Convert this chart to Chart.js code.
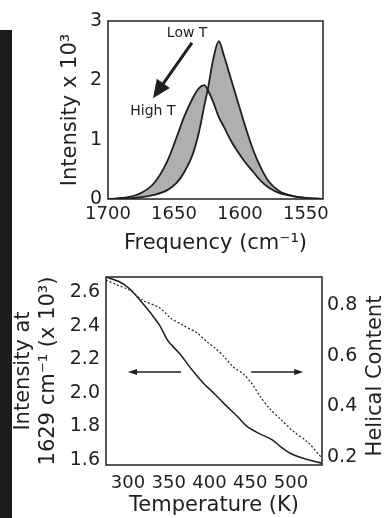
<!DOCTYPE html>
<html>
<head>
<meta charset="utf-8">
<script src="https://cdn.jsdelivr.net/npm/chart.js@4.4.1/dist/chart.umd.min.js"></script>
<style>
  body { margin: 0; background: #fff; width: 388px; height: 518px; position: relative; overflow: hidden; }
  #edge { position: absolute; left: 0; top: 30px; width: 12px; height: 488px; background: #1c1c1c; }
  canvas { position: absolute; left: 0; }
  #spectra { top: 0; }
  #melt { top: 258px; }
</style>
</head>
<body>
<div id="edge"></div>
<canvas id="spectra" width="388" height="258"></canvas>
<canvas id="melt" width="388" height="260"></canvas>
<script>
// top panel: amide I band at the lowest and the highest temperature (x 10^3)
const freq  = [1700, 1685, 1675, 1665, 1655, 1648, 1642, 1636, 1631, 1627, 1624, 1620, 1616, 1612, 1607, 1602, 1596, 1590, 1584, 1578, 1570, 1560, 1550, 1537];
const lowT  = [0.0, 0.01, 0.03, 0.07, 0.15, 0.27, 0.46, 0.74, 1.13, 1.57, 1.89, 2.38, 2.66, 2.41, 2.04, 1.67, 1.23, 0.83, 0.52, 0.29, 0.13, 0.05, 0.02, 0.0];
const highT = [0.0, 0.03, 0.10, 0.27, 0.64, 1.04, 1.40, 1.69, 1.87, 1.92, 1.82, 1.62, 1.38, 1.21, 0.99, 0.81, 0.62, 0.46, 0.30, 0.19, 0.10, 0.05, 0.02, 0.0];
const freqTicks = [1700, 1650, 1600, 1550];
const intensityTicks = [0, 1, 2, 3];

// bottom panel: intensity at 1629 cm-1 (left axis) and helical content (right axis)
const tempSolid = [273, 290, 302, 315, 327, 339, 349, 364, 378, 392, 407, 417, 434, 446, 460, 477, 487, 499, 515, 538];
const intensity1629 = [2.69, 2.66, 2.62, 2.55, 2.48, 2.40, 2.31, 2.23, 2.14, 2.06, 1.99, 1.94, 1.86, 1.80, 1.76, 1.72, 1.68, 1.64, 1.61, 1.58];
const tempDotted = [273, 287, 302, 318, 339, 352, 368, 385, 397, 407, 417, 429, 441, 452, 462, 474, 487, 503, 520, 538];
const helical = [0.90, 0.88, 0.86, 0.82, 0.79, 0.75, 0.72, 0.69, 0.655, 0.63, 0.60, 0.556, 0.53, 0.49, 0.44, 0.39, 0.35, 0.30, 0.26, 0.195];
const tempTicks = [300, 350, 400, 450, 500];
const leftTicks = [1.6, 1.8, 2.0, 2.2, 2.4, 2.6];
const rightTicks = [0.2, 0.4, 0.6, 0.8];

const ink = '#1f1f1f';
Chart.defaults.font.family = '"DejaVu Sans", Verdana, sans-serif';
Chart.defaults.color = ink;

const frame = {
    id: 'frame',
    afterDraw(chart) {
        const { ctx, chartArea: a } = chart;
        ctx.save();
        ctx.strokeStyle = ink;
        ctx.lineWidth = 1.5;
        ctx.strokeRect(a.left, a.top, a.right - a.left, a.bottom - a.top);
        ctx.restore();
    }
};

function arrow(ctx, x0, y0, x1, y1, width, head, headW) {
    const ang = Math.atan2(y1 - y0, x1 - x0);
    const c = Math.cos(ang), s = Math.sin(ang);
    ctx.lineWidth = width;
    ctx.beginPath();
    ctx.moveTo(x0, y0);
    ctx.lineTo(x1 - c * head * 0.7, y1 - s * head * 0.7);
    ctx.stroke();
    ctx.beginPath();
    ctx.moveTo(x1, y1);
    ctx.lineTo(x1 - c * head - s * headW / 2, y1 - s * head + c * headW / 2);
    ctx.lineTo(x1 - c * head + s * headW / 2, y1 - s * head - c * headW / 2);
    ctx.closePath();
    ctx.fill();
}

const spectraNotes = {
    id: 'spectraNotes',
    afterDatasetsDraw(chart) {
        const { ctx, scales: { x, y } } = chart;
        ctx.save();
        ctx.fillStyle = ink;
        ctx.strokeStyle = ink;
        arrow(ctx, x.getPixelForValue(1636.4), y.getPixelForValue(2.63),
            x.getPixelForValue(1665.9), y.getPixelForValue(1.70), 3, 18, 16);
        ctx.font = '14px "DejaVu Sans"';
        ctx.textAlign = 'center';
        ctx.textBaseline = 'middle';
        ctx.fillText('Low T', x.getPixelForValue(1640), y.getPixelForValue(2.8));
        ctx.fillText('High T', x.getPixelForValue(1666), y.getPixelForValue(1.47));
        ctx.restore();
    }
};

const meltNotes = {
    id: 'meltNotes',
    afterDatasetsDraw(chart) {
        const { ctx, chartArea: a, scales: { x, y } } = chart;
        const yy = y.getPixelForValue(2.124);
        ctx.save();
        ctx.fillStyle = ink;
        ctx.strokeStyle = ink;
        arrow(ctx, x.getPixelForValue(365), yy, x.getPixelForValue(300), yy, 1.5, 9, 6);
        arrow(ctx, x.getPixelForValue(451), yy, x.getPixelForValue(515), yy, 1.5, 9, 6);
        // right-hand axis title reads upwards, like the left one
        ctx.translate(376, (a.top + a.bottom) / 2 + 5);
        ctx.rotate(-Math.PI / 2);
        ctx.font = '21px "DejaVu Sans"';
        ctx.textAlign = 'center';
        ctx.textBaseline = 'middle';
        ctx.fillText('Helical Content', 0, 0);
        ctx.restore();
    }
};

const fixTicks = list => s => { s.ticks = list.map(v => ({ value: v })); };

new Chart(document.getElementById('spectra'), {
    type: 'line',
    data: {
        datasets: [
            {
                data: freq.map((f, i) => ({ x: f, y: highT[i] })),
                borderColor: ink,
                borderWidth: 1.8,
                pointRadius: 0,
                cubicInterpolationMode: 'monotone',
                fill: false
            },
            {
                data: freq.map((f, i) => ({ x: f, y: lowT[i] })),
                borderColor: ink,
                borderWidth: 1.8,
                pointRadius: 0,
                cubicInterpolationMode: 'monotone',
                fill: '-1',
                backgroundColor: 'rgba(110,110,110,0.55)'
            }
        ]
    },
    options: {
        responsive: false,
        animation: false,
        layout: { padding: { left: 0, right: 65, top: 21, bottom: 0 } },
        plugins: { legend: { display: false }, tooltip: { enabled: false } },
        scales: {
            x: {
                type: 'linear',
                reverse: true,
                min: 1537,
                max: 1700,
                afterBuildTicks: fixTicks(freqTicks),
                afterFit: s => { s.height = 59; },
                grid: { display: false, drawTicks: false },
                border: { display: false },
                ticks: { padding: 5, font: { size: 18 }, callback: v => String(v) },
                title: { display: true, text: 'Frequency (cm⁻¹)', font: { size: 21 }, padding: { top: 0, bottom: 2 } }
            },
            y: {
                min: 0,
                max: 3,
                afterBuildTicks: fixTicks(intensityTicks),
                afterFit: s => { s.width = 108; },
                grid: { display: false, drawTicks: false },
                border: { display: false },
                ticks: { padding: 6, font: { size: 19 } },
                title: { display: true, text: 'Intensity x 10³', font: { size: 21 }, padding: { top: 58, bottom: 0 } }
            }
        }
    },
    plugins: [frame, spectraNotes]
});

new Chart(document.getElementById('melt'), {
    type: 'line',
    data: {
        datasets: [
            {
                data: tempSolid.map((t, i) => ({ x: t, y: intensity1629[i] })),
                yAxisID: 'y',
                borderColor: ink,
                borderWidth: 1.5,
                pointRadius: 0,
                tension: 0.3
            },
            {
                data: tempDotted.map((t, i) => ({ x: t, y: helical[i] })),
                yAxisID: 'y2',
                borderColor: ink,
                borderWidth: 1.2,
                borderDash: [2, 2],
                pointRadius: 0,
                tension: 0.3
            }
        ]
    },
    options: {
        responsive: false,
        animation: false,
        layout: { padding: { left: 0, right: 0, top: 19, bottom: 0 } },
        plugins: { legend: { display: false }, tooltip: { enabled: false } },
        scales: {
            x: {
                type: 'linear',
                min: 273,
                max: 538,
                afterBuildTicks: fixTicks(tempTicks),
                afterFit: s => { s.height = 53; },
                grid: { display: false, drawTicks: false },
                border: { display: false },
                ticks: { padding: 8, font: { size: 18 } },
                title: { display: true, text: 'Temperature (K)', font: { size: 21 }, padding: { top: 0, bottom: 0 } }
            },
            y: {
                position: 'left',
                min: 1.57,
                max: 2.69,
                afterBuildTicks: fixTicks(leftTicks),
                afterFit: s => { s.width = 106; },
                grid: { display: false, drawTicks: false },
                border: { display: false },
                ticks: { padding: 6, font: { size: 19 }, callback: v => v.toFixed(1) },
                title: { display: true, text: ['Intensity at', '1629 cm⁻¹ (x 10³)'], font: { size: 21 }, padding: { top: 11, bottom: 0 } }
            },
            y2: {
                position: 'right',
                min: 0.168,
                max: 0.912,
                afterBuildTicks: fixTicks(rightTicks),
                afterFit: s => { s.width = 66; },
                grid: { display: false, drawTicks: false },
                border: { display: false },
                ticks: { padding: 5, font: { size: 19 }, callback: v => v.toFixed(1) },
                title: { display: false }
            }
        }
    },
    plugins: [frame, meltNotes]
});
</script>
</body>
</html>
